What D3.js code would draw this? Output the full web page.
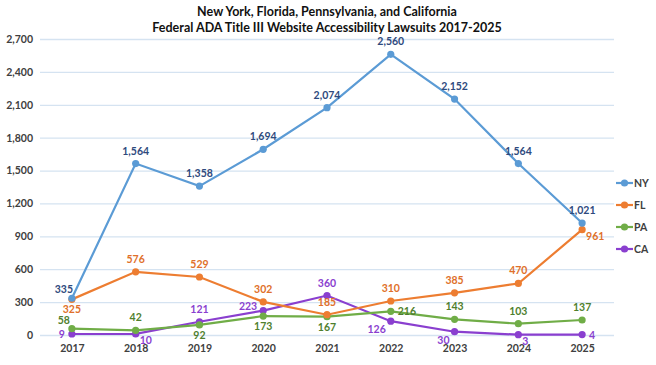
<!DOCTYPE html>
<html>
<head>
<meta charset="utf-8">
<script src="https://cdn.jsdelivr.net/npm/d3@7"></script>
<style>
  body { margin: 0; background: #fff; }
  text { font-family: Lato, "Open Sans", sans-serif; font-weight: bold; }
</style>
</head>
<body>
<script>
const years = ["2017", "2018", "2019", "2020", "2021", "2022", "2023", "2024", "2025"];
const ny = [335, 1564, 1358, 1694, 2074, 2560, 2152, 1564, 1021];
const fl = [325, 576, 529, 302, 185, 310, 385, 470, 961];
const pa = [58, 42, 92, 173, 167, 216, 143, 103, 137];
const ca = [9, 10, 121, 223, 360, 126, 30, 3, 4];
const yTicks = [0, 300, 600, 900, 1200, 1500, 1800, 2100, 2400, 2700];

// where each data label sits relative to its point
const nyPlace = ["al", "a", "a", "a", "a", "a", "a", "a", "a"];
const flPlace = ["b", "a", "a", "a", "a", "a", "a", "a", "br"];
const paPlace = ["al", "a", "b", "b", "b", "r", "a", "a", "a"];
const caPlace = ["l", "br", "a", "ul", "a", "bl", "bl", "br", "r"];

const width = 656, height = 365;
const margin = { top: 39, right: 42, bottom: 30, left: 40 };

const svg = d3.select("body").append("svg")
    .attr("width", width)
    .attr("height", height);

svg.append("rect")
    .attr("width", width)
    .attr("height", height)
    .attr("fill", "white");

const x = d3.scalePoint()
    .domain(years)
    .range([margin.left, width - margin.right])
    .padding(0.5);

const y = d3.scaleLinear()
    .domain([0, 2700])
    .range([height - margin.bottom, margin.top]);

// title
svg.append("text")
    .attr("x", 327).attr("y", 16)
    .attr("text-anchor", "middle")
    .attr("font-size", 12.5)
    .attr("fill", "#111")
    .text("New York, Florida, Pennsylvania, and California");
svg.append("text")
    .attr("x", 327).attr("y", 32)
    .attr("text-anchor", "middle")
    .attr("font-size", 12.5)
    .attr("fill", "#111")
    .text("Federal ADA Title III Website Accessibility Lawsuits 2017-2025");

// gridlines + y labels
const yAxis = svg.append("g")
    .attr("transform", `translate(${margin.left},0)`)
    .call(d3.axisLeft(y).tickValues(yTicks).tickFormat(d3.format(",")).tickSize(-(width - margin.left - margin.right)).tickPadding(7));
yAxis.select(".domain").remove();
yAxis.selectAll(".tick line").attr("stroke", "#d5e3f1").attr("stroke-width", 1.3);
yAxis.selectAll(".tick text").attr("fill", "#404040").attr("font-size", 10.5)
    .attr("font-family", "Lato, sans-serif").attr("font-weight", "bold");

// x labels
const xAxis = svg.append("g")
    .attr("transform", `translate(0,${height - margin.bottom})`)
    .call(d3.axisBottom(x).tickSize(0).tickPadding(10));
xAxis.select(".domain").remove();
xAxis.selectAll(".tick text").attr("fill", "#404040").attr("font-size", 10.5)
    .attr("font-family", "Lato, sans-serif").attr("font-weight", "bold");

const series = [
    { name: "NY", values: ny, place: nyPlace, color: "#5b9bd5", label: "#2e4a7d" },
    { name: "FL", values: fl, place: flPlace, color: "#ed7d31", label: "#e0702a" },
    { name: "PA", values: pa, place: paPlace, color: "#70ad47", label: "#4f7f2e" },
    { name: "CA", values: ca, place: caPlace, color: "#8a3fcf", label: "#8a3fcf" }
];

const offsets = {
    a: [0, -9, "middle"],
    b: [0, 14, "middle"],
    al: [-8, -5, "middle"],
    ul: [-6, -1, "end"],
    l: [-7, 4, "end"],
    r: [7, 4, "start"],
    br: [4, 10, "start"],
    bl: [-5, 12, "end"]
};

const line = d3.line()
    .x((d, i) => x(years[i]))
    .y(d => y(d));

// draw in reverse so NY sits on top like Excel
series.slice().reverse().forEach(s => {
    svg.append("path")
        .datum(s.values)
        .attr("fill", "none")
        .attr("stroke", s.color)
        .attr("stroke-width", 2.2)
        .attr("d", line);
    svg.selectAll(null)
        .data(s.values)
        .enter().append("circle")
            .attr("cx", (d, i) => x(years[i]))
            .attr("cy", d => y(d))
            .attr("r", 3.6)
            .attr("fill", s.color);
});

series.forEach(s => {
    svg.selectAll(null)
        .data(s.values)
        .enter().append("text")
            .attr("x", (d, i) => x(years[i]) + offsets[s.place[i]][0])
            .attr("y", (d, i) => y(d) + offsets[s.place[i]][1])
            .attr("text-anchor", (d, i) => offsets[s.place[i]][2])
            .attr("font-size", 10.5)
            .attr("fill", s.label)
            .text(d => d3.format(",")(d));
});

// legend
const legend = svg.append("g").attr("transform", "translate(616,183)");
series.forEach((s, i) => {
    const g = legend.append("g").attr("transform", `translate(0,${i * 22})`);
    g.append("line").attr("x1", 0).attr("x2", 17).attr("stroke", s.color).attr("stroke-width", 2.2);
    g.append("circle").attr("cx", 8.5).attr("r", 3.6).attr("fill", s.color);
    g.append("text").attr("x", 18).attr("y", 4).attr("font-size", 10.5).attr("fill", "#404040").text(s.name);
});
</script>
</body>
</html>
